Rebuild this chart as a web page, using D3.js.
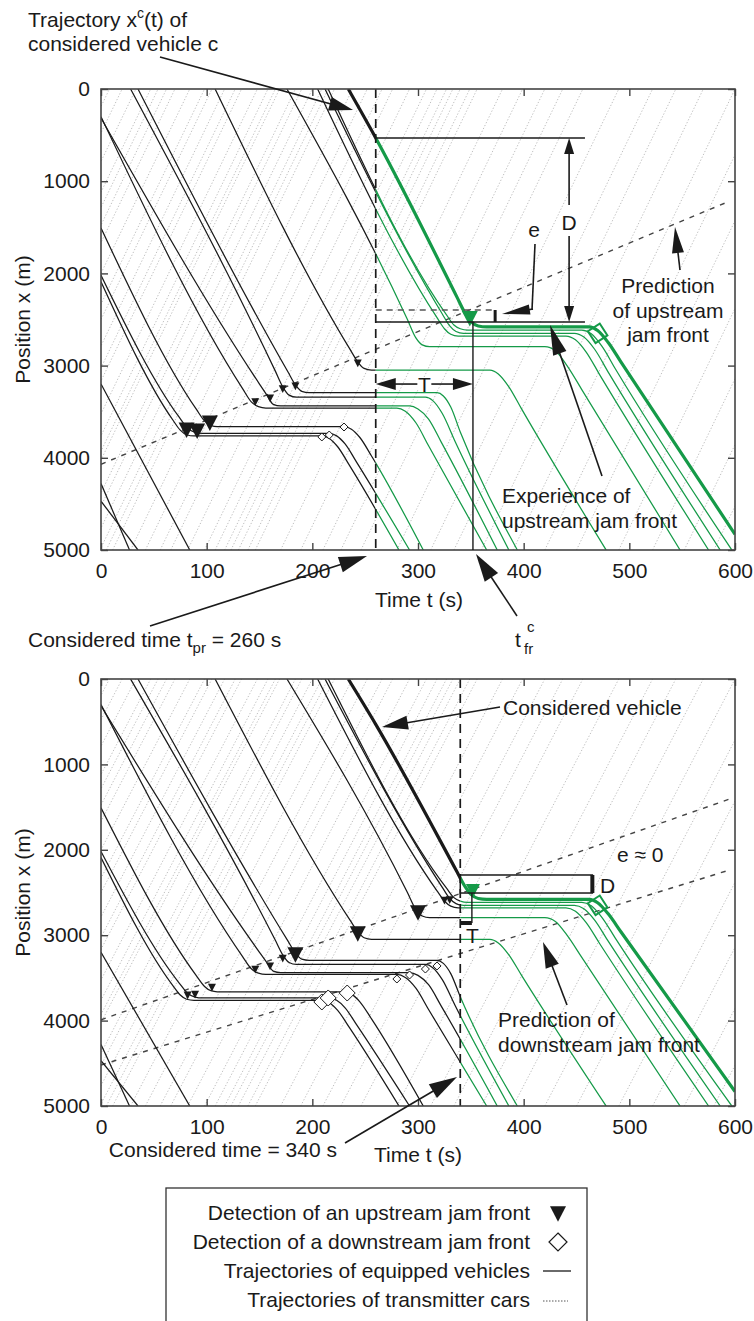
<!DOCTYPE html>
<html>
<head>
<meta charset="utf-8">
<script src="https://cdn.jsdelivr.net/npm/d3@7"></script>
<style>
  body { margin: 0; background: #fff; }
  text { font-family: "Liberation Sans", Arial, Helvetica, sans-serif; font-size: 21px; fill: #1a1a1a; }
</style>
</head>
<body>
<div id="chart"></div>
<script>
const width = 754, height = 1321;

// axis ticks
const timeTicks = [0, 100, 200, 300, 400, 500, 600];
const posTicks = [0, 1000, 2000, 3000, 4000, 5000];

// equipped vehicles: key points [time t (s), position x (m)]
const veh1 = [[0,2090],[68,3590],[75,3700],[81,3750],[88,3763],[209,3763],[216,3790],[224,3880],[235,4080],[282,5000]];
const veh2 = [[0,2020],[74,3560],[82,3680],[89,3725],[96,3735],[216,3735],[223,3762],[231,3850],[242,4050],[292,5000]];
const veh3 = [[0,1508],[90,3470],[98,3600],[104,3650],[110,3663],[230,3663],[237,3690],[245,3780],[256,3980],[305,5000]];
const veh4 = [[0,300],[134,3250],[142,3390],[149,3445],[156,3460],[280,3460],[288,3495],[298,3620],[310,3870],[365,5000]];
const veh5 = [[0,315],[150,3200],[157,3320],[163,3420],[170,3438],[292,3438],[300,3470],[310,3580],[322,3830],[375,5000]];
const veh6 = [[28,0],[165,3060],[172,3230],[178,3320],[185,3343],[307,3343],[314,3380],[323,3520],[335,3820],[386,5000]];
const veh7 = [[35,0],[177,3070],[184,3210],[190,3280],[197,3294],[318,3294],[324,3330],[331,3450],[340,3720],[394,5000]];
const veh8 = [[108,0],[236,2830],[243,2960],[249,3030],[256,3048],[368,3048],[376,3090],[386,3230],[398,3470],[478,5000]];
const veh9 = [[176,0],[290,2500],[298,2700],[304,2775],[311,2795],[420,2795],[430,2840],[441,3000],[455,3260],[548,5000]];
const veh10 = [[205,0],[318,2480],[325,2600],[331,2660],[338,2680],[440,2680],[449,2720],[459,2850],[472,3100],[575,5000]];
const veh11 = [[212,0],[323,2440],[330,2570],[336,2630],[343,2650],[448,2650],[457,2690],[467,2820],[480,3070],[586,5000]];
const veh12 = [[215,0],[327,2450],[334,2560],[340,2600],[347,2615],[455,2615],[464,2655],[474,2790],[487,3040],[597,5000]];
const veh13 = [[0,3200],[84,5000]];
const veh14 = [[0,4280],[27,5000]];
const veh15 = [[0,4470],[35,5000]];
const vehConsidered = [[234,0],[260,531],[337,2260],[344,2420],[350,2520],[357,2570],[365,2580],[462,2580],[470,2620],[480,2750],[492,2960],[600,4830]];
const vehicles = [veh1, veh2, veh3, veh4, veh5, veh6, veh7, veh8, veh9, veh10, veh11, veh12, veh13, veh14, veh15];

// transmitter cars (opposite direction): [t at x=5000, t at x=0]
const transmitters = [[-202,8],[-190,20],[-177,33],[-163,47],[-156,54],[-148,62],[-140,70],[-126,84],[-112,98],[-105,105],
  [-93,117],[-83,127],[-77,133],[-62,148],[-52,158],[-45,165],[-41,169],[-26,184],[-20,190],[-10,200],[-1,209],[5,215],
  [11,221],[28,238],[42,252],[56,266],[66,276],[82,292],[98,308],[108,318],[117,327],[123,333],[130,340],[139,349],
  [146,356],[170,380],[189,399],[210,420],[227,437],[246,456],[280,490],[312,522],[334,544],[360,570],[390,600],
  [420,630],[450,660],[490,700],[522,732],[552,762],[580,790],[598,808]];

// jam front detections, [t, x, size]
const upTop = [[81,3690,16],[91,3700,16],[103,3615,16],[146,3390,8],[160,3350,8],[172,3250,8],[184,3220,8],[243,2970,8]];
const downTop = [[209,3774,8],[216,3753,8],[230,3666,8]];
const upBottom = [[82,3700,8],[89,3690,8],[105,3609,8],[146,3396,8],[160,3360,8],[172,3267,8],[184,3220,16],[243,2974,16],[300,2728,16],[325,2590,8],[330,2582,8]];
const downBottom = [[209,3782,16],[215,3735,16],[233,3677,16],[280,3513,8],[292,3466,8],[307,3396,8],[318,3360,8]];
const upConsidered = [[349,2480,16],[352,2470,14]];
const downConsidered = [[470,2650,20],[470,2650,20]];

// predicted jam fronts [[t0,x0],[t1,x1]]
const predUpTop = [[0,4070],[592,1230]];
const predUpBottom = [[0,3990],[595,1405]];
const predDownBottom = [[0,4520],[595,2236]];

const green = "#159a48";
const ink = "#1a1a1a";

const svg = d3.select("#chart").append("svg")
    .attr("width", width)
    .attr("height", height);

const defs = svg.append("defs");

function arrow(g, x1, y1, x2, y2, len, w, color) {
    len = len || 20; w = w || 6; color = color || ink;
    const dx = x2 - x1, dy = y2 - y1, d = Math.hypot(dx, dy);
    const ux = dx / d, uy = dy / d;
    const bx = x2 - ux * len, by = y2 - uy * len;
    g.append("line").attr("x1", x1).attr("y1", y1).attr("x2", bx + ux * 2).attr("y2", by + uy * 2)
        .attr("stroke", color).attr("stroke-width", 1.6);
    g.append("path")
        .attr("d", `M${x2},${y2}L${bx - uy * w},${by + ux * w}L${bx + uy * w},${by - ux * w}Z`)
        .attr("fill", color);
}

function triDown(s) {
    return `M${-s/2},${-s*0.42}L${s/2},${-s*0.42}L0,${s*0.55}Z`;
}
function diamond(s) {
    return `M0,${-s/2}L${s/2},0L0,${s/2}L${-s/2},0Z`;
}

function drawPanel(p) {
    const x = d3.scaleLinear().domain([0, 600]).range([101, 735]);
    const y = d3.scaleLinear().domain([0, 5000]).range([p.y0, p.y1]);
    const g = svg.append("g");

    const clips = {
        all: [0, 600],
        before: [0, p.tPr],
        after: [p.tPr, 600]
    };
    Object.entries(clips).forEach(([k, [a, b]]) => {
        defs.append("clipPath").attr("id", `${p.id}-${k}`)
            .append("rect")
            .attr("x", x(a)).attr("y", p.y0)
            .attr("width", x(b) - x(a)).attr("height", p.y1 - p.y0);
    });

    const plot = g.append("g").attr("clip-path", `url(#${p.id}-all)`);

    // transmitter cars
    plot.selectAll(".tr")
        .data(transmitters)
        .enter()
        .append("line")
        .attr("x1", d => x(d[0])).attr("y1", y(5000))
        .attr("x2", d => x(d[1])).attr("y2", y(0))
        .attr("stroke", "#a4a4a4")
        .attr("stroke-width", 0.7)
        .attr("stroke-dasharray", "1.3,1.9");

    // predictions
    p.preds.forEach(pr => {
        plot.append("line")
            .attr("x1", x(pr[0][0])).attr("y1", y(pr[0][1]))
            .attr("x2", x(pr[1][0])).attr("y2", y(pr[1][1]))
            .attr("stroke", "#444").attr("stroke-width", 1.4)
            .attr("stroke-dasharray", "5,6");
    });

    const line = d3.line().x(d => x(d[0])).y(d => y(d[1])).curve(d3.curveMonotoneX);

    // equipped vehicles: black before considered time, green after
    [["before", ink], ["after", green]].forEach(([k, col]) => {
        const lg = plot.append("g").attr("clip-path", `url(#${p.id}-${k})`);
        lg.selectAll(".veh")
            .data(vehicles)
            .enter()
            .append("path")
            .attr("d", line)
            .attr("fill", "none")
            .attr("stroke", col)
            .attr("stroke-width", 1.25);
        lg.append("path")
            .attr("d", line(vehConsidered))
            .attr("fill", "none")
            .attr("stroke", col)
            .attr("stroke-width", 3.2);
    });

    // considered time
    g.append("line")
        .attr("x1", x(p.tPr)).attr("x2", x(p.tPr))
        .attr("y1", p.y0).attr("y2", p.y1)
        .attr("stroke", ink).attr("stroke-width", 1.7)
        .attr("stroke-dasharray", "9,6");

    // markers
    g.selectAll(".up")
        .data(p.up)
        .enter()
        .append("path")
        .attr("transform", d => `translate(${x(d[0])},${y(d[1])})`)
        .attr("d", d => triDown(d[2]))
        .attr("fill", ink);
    g.selectAll(".down")
        .data(p.down)
        .enter()
        .append("path")
        .attr("transform", d => `translate(${x(d[0])},${y(d[1])})`)
        .attr("d", d => diamond(d[2]))
        .attr("fill", "#fff").attr("stroke", ink).attr("stroke-width", 1);
    const uc = upConsidered[p.idx], dc = downConsidered[p.idx];
    g.append("path")
        .attr("transform", `translate(${x(uc[0])},${y(uc[1])})`)
        .attr("d", triDown(uc[2])).attr("fill", green);
    g.append("path")
        .attr("transform", `translate(${x(dc[0])},${y(dc[1])}) rotate(12)`)
        .attr("d", diamond(dc[2]))
        .attr("fill", "none").attr("stroke", green).attr("stroke-width", 2);

    // axes with inward ticks
    const ax = g.append("g").attr("class", "axes");
    ax.append("g").attr("transform", `translate(101,0)`)
        .call(d3.axisLeft(y).tickValues(posTicks).tickFormat(d3.format("d"))
            .tickSizeInner(-7).tickSizeOuter(0).tickPadding(11));
    ax.append("g").attr("transform", `translate(735,0)`)
        .call(d3.axisRight(y).tickValues(posTicks).tickSizeInner(-7).tickSizeOuter(0).tickFormat(""));
    ax.append("g").attr("transform", `translate(0,${p.y1})`)
        .call(d3.axisBottom(x).tickValues(timeTicks).tickFormat(d3.format("d"))
            .tickSizeInner(-7).tickSizeOuter(0).tickPadding(13));
    ax.append("g").attr("transform", `translate(0,${p.y0})`)
        .call(d3.axisTop(x).tickValues(timeTicks).tickSizeInner(-7).tickSizeOuter(0).tickFormat(""));
    ax.selectAll(".domain").remove();
    ax.selectAll(".tick line").attr("stroke", "#444").attr("stroke-width", 1.4);
    ax.selectAll(".tick text").attr("font-size", 21).attr("fill", ink)
        .style("font-family", "'Liberation Sans', Arial, sans-serif");
    g.append("rect")
        .attr("x", 101).attr("y", p.y0)
        .attr("width", 634).attr("height", p.y1 - p.y0)
        .attr("fill", "none").attr("stroke", "#444").attr("stroke-width", 1.6);

    g.append("text")
        .attr("transform", `translate(30,${(p.y0 + p.y1) / 2}) rotate(-90)`)
        .attr("text-anchor", "middle")
        .text("Position x (m)");

    return { x, y, g };
}

const topPanel = drawPanel({ id: "top", idx: 0, y0: 89, y1: 550, tPr: 260, up: upTop, down: downTop, preds: [predUpTop] });
const botPanel = drawPanel({ id: "bot", idx: 1, y0: 679, y1: 1106, tPr: 340, up: upBottom, down: downBottom, preds: [predUpBottom, predDownBottom] });

// ---- top panel annotations ----
{
    const { x, y, g } = topPanel;
    const a = g.append("g");
    const t1 = a.append("text").attr("x", 28).attr("y", 27);
    t1.append("tspan").text("Trajectory x");
    t1.append("tspan").attr("dy", -9).attr("font-size", 14).text("c");
    t1.append("tspan").attr("dy", 9).text("(t) of");
    a.append("text").attr("x", 28).attr("y", 51).text("considered vehicle c");
    arrow(a, 160, 57, 353, 110, 24, 7);

    // D bracket
    a.append("line").attr("x1", x(260)).attr("x2", x(458)).attr("y1", y(531)).attr("y2", y(531))
        .attr("stroke", ink).attr("stroke-width", 1.4);
    a.append("line").attr("x1", x(260)).attr("x2", x(458)).attr("y1", y(2527)).attr("y2", y(2527))
        .attr("stroke", ink).attr("stroke-width", 1.6);
    a.append("line").attr("x1", x(260)).attr("x2", x(373)).attr("y1", y(2397)).attr("y2", y(2397))
        .attr("stroke", "#555").attr("stroke-width", 1.4).attr("stroke-dasharray", "6,5");
    a.append("line").attr("x1", x(373)).attr("x2", x(373)).attr("y1", y(2397)).attr("y2", y(2527))
        .attr("stroke", ink).attr("stroke-width", 3);
    arrow(a, x(443), 205, x(443), y(531), 16, 5);
    arrow(a, x(443), 236, x(443), y(2527), 16, 5);
    a.append("text").attr("x", x(443)).attr("y", 230).attr("text-anchor", "middle").text("D");
    a.append("text").attr("x", 534).attr("y", 237).attr("text-anchor", "middle").text("e");
    a.append("line").attr("x1", 535).attr("y1", 244).attr("x2", 532).attr("y2", 310)
        .attr("stroke", ink).attr("stroke-width", 1.6);
    arrow(a, 533, 309, 502, 314, 28, 5);

    // experienced front
    a.append("line").attr("x1", x(352)).attr("x2", x(352)).attr("y1", y(2527)).attr("y2", y(5000))
        .attr("stroke", ink).attr("stroke-width", 1.4);
    // T arrow
    arrow(a, x(306), y(3200), x(260), y(3200), 20, 6);
    arrow(a, x(306), y(3200), x(352), y(3200), 20, 6);
    a.append("rect").attr("x", x(306) - 7).attr("y", y(3200) - 6).attr("width", 14).attr("height", 12).attr("fill", "#fff");
    a.append("text").attr("x", x(306)).attr("y", y(3200) + 8).attr("text-anchor", "middle").text("T");

    [["Prediction", 293], ["of upstream", 318], ["jam front", 342]].forEach(([s, yy]) =>
        a.append("text").attr("x", 668).attr("y", yy).attr("text-anchor", "middle").text(s));
    arrow(a, 680, 270, 675, 227, 26, 6);

    a.append("text").attr("x", 502).attr("y", 503).text("Experience of");
    a.append("text").attr("x", 502).attr("y", 528).text("upstream jam front");
    arrow(a, 602, 476, 550, 325, 30, 7);

    const ct = a.append("text").attr("x", 28).attr("y", 647);
    ct.append("tspan").text("Considered time t");
    ct.append("tspan").attr("dy", 6).attr("font-size", 15).text("pr");
    ct.append("tspan").attr("dy", -6).text(" = 260 s");
    arrow(a, 150, 626, 367, 556, 28, 8);

    const tf = a.append("text").attr("x", 515).attr("y", 647);
    tf.append("tspan").text("t");
    tf.append("tspan").attr("x", 527).attr("dy", -15).attr("font-size", 15).text("c");
    tf.append("tspan").attr("x", 524).attr("dy", 22).attr("font-size", 15).text("fr");
    arrow(a, 517, 616, 476, 554, 28, 8);

    a.append("text").attr("x", 419).attr("y", 607).attr("text-anchor", "middle").text("Time t (s)");
}

// ---- bottom panel annotations ----
{
    const { x, y, g } = botPanel;
    const a = g.append("g");
    a.append("text").attr("x", 503).attr("y", 715).text("Considered vehicle");
    arrow(a, 500, 707, 382, 727, 26, 7);

    a.append("text").attr("x", 617).attr("y", 862).text("e \u2248 0");
    a.append("rect").attr("x", x(340)).attr("y", y(2295))
        .attr("width", x(465) - x(340)).attr("height", y(2506) - y(2295))
        .attr("fill", "none").attr("stroke", ink).attr("stroke-width", 1.5);
    a.append("line").attr("x1", x(465)).attr("x2", x(465)).attr("y1", y(2295)).attr("y2", y(2506))
        .attr("stroke", ink).attr("stroke-width", 4);
    a.append("text").attr("x", 600).attr("y", 893).text("D");

    a.append("line").attr("x1", x(351)).attr("x2", x(351)).attr("y1", y(2506)).attr("y2", y(2857))
        .attr("stroke", ink).attr("stroke-width", 1.4);
    a.append("line").attr("x1", x(340)).attr("x2", x(351)).attr("y1", y(2857)).attr("y2", y(2857))
        .attr("stroke", ink).attr("stroke-width", 4);
    a.append("text").attr("x", 466).attr("y", 943).text("T");

    a.append("text").attr("x", 498).attr("y", 1027).text("Prediction of");
    a.append("text").attr("x", 498).attr("y", 1052).text("downstream jam front");
    arrow(a, 567, 1005, 543, 942, 26, 7);

    a.append("text").attr("x", 337).attr("y", 1157).attr("text-anchor", "end").text("Considered time = 340 s");
    arrow(a, 345, 1143, 457, 1077, 28, 8);
    a.append("text").attr("x", 418).attr("y", 1162).attr("text-anchor", "middle").text("Time t (s)");
}

// ---- legend ----
{
    const lg = svg.append("g");
    lg.append("rect").attr("x", 166).attr("y", 1188).attr("width", 421).attr("height", 150)
        .attr("fill", "#fff").attr("stroke", "#333").attr("stroke-width", 1.3);
    const items = ["Detection of an upstream jam front", "Detection of a downstream jam front",
        "Trajectories of equipped vehicles", "Trajectories of transmitter cars"];
    items.forEach((s, i) => lg.append("text").attr("x", 530).attr("y", 1220 + i * 29)
        .attr("text-anchor", "end").text(s));
    lg.append("path").attr("transform", "translate(558,1213)").attr("d", triDown(16)).attr("fill", ink);
    lg.append("path").attr("transform", "translate(558,1242)").attr("d", diamond(18))
        .attr("fill", "#fff").attr("stroke", ink).attr("stroke-width", 1.2);
    lg.append("line").attr("x1", 543).attr("x2", 571).attr("y1", 1271).attr("y2", 1271)
        .attr("stroke", ink).attr("stroke-width", 1.3);
    lg.append("line").attr("x1", 543).attr("x2", 568).attr("y1", 1301).attr("y2", 1301)
        .attr("stroke", "#555").attr("stroke-width", 1).attr("stroke-dasharray", "1.5,1.5");
}
</script>
</body>
</html>
